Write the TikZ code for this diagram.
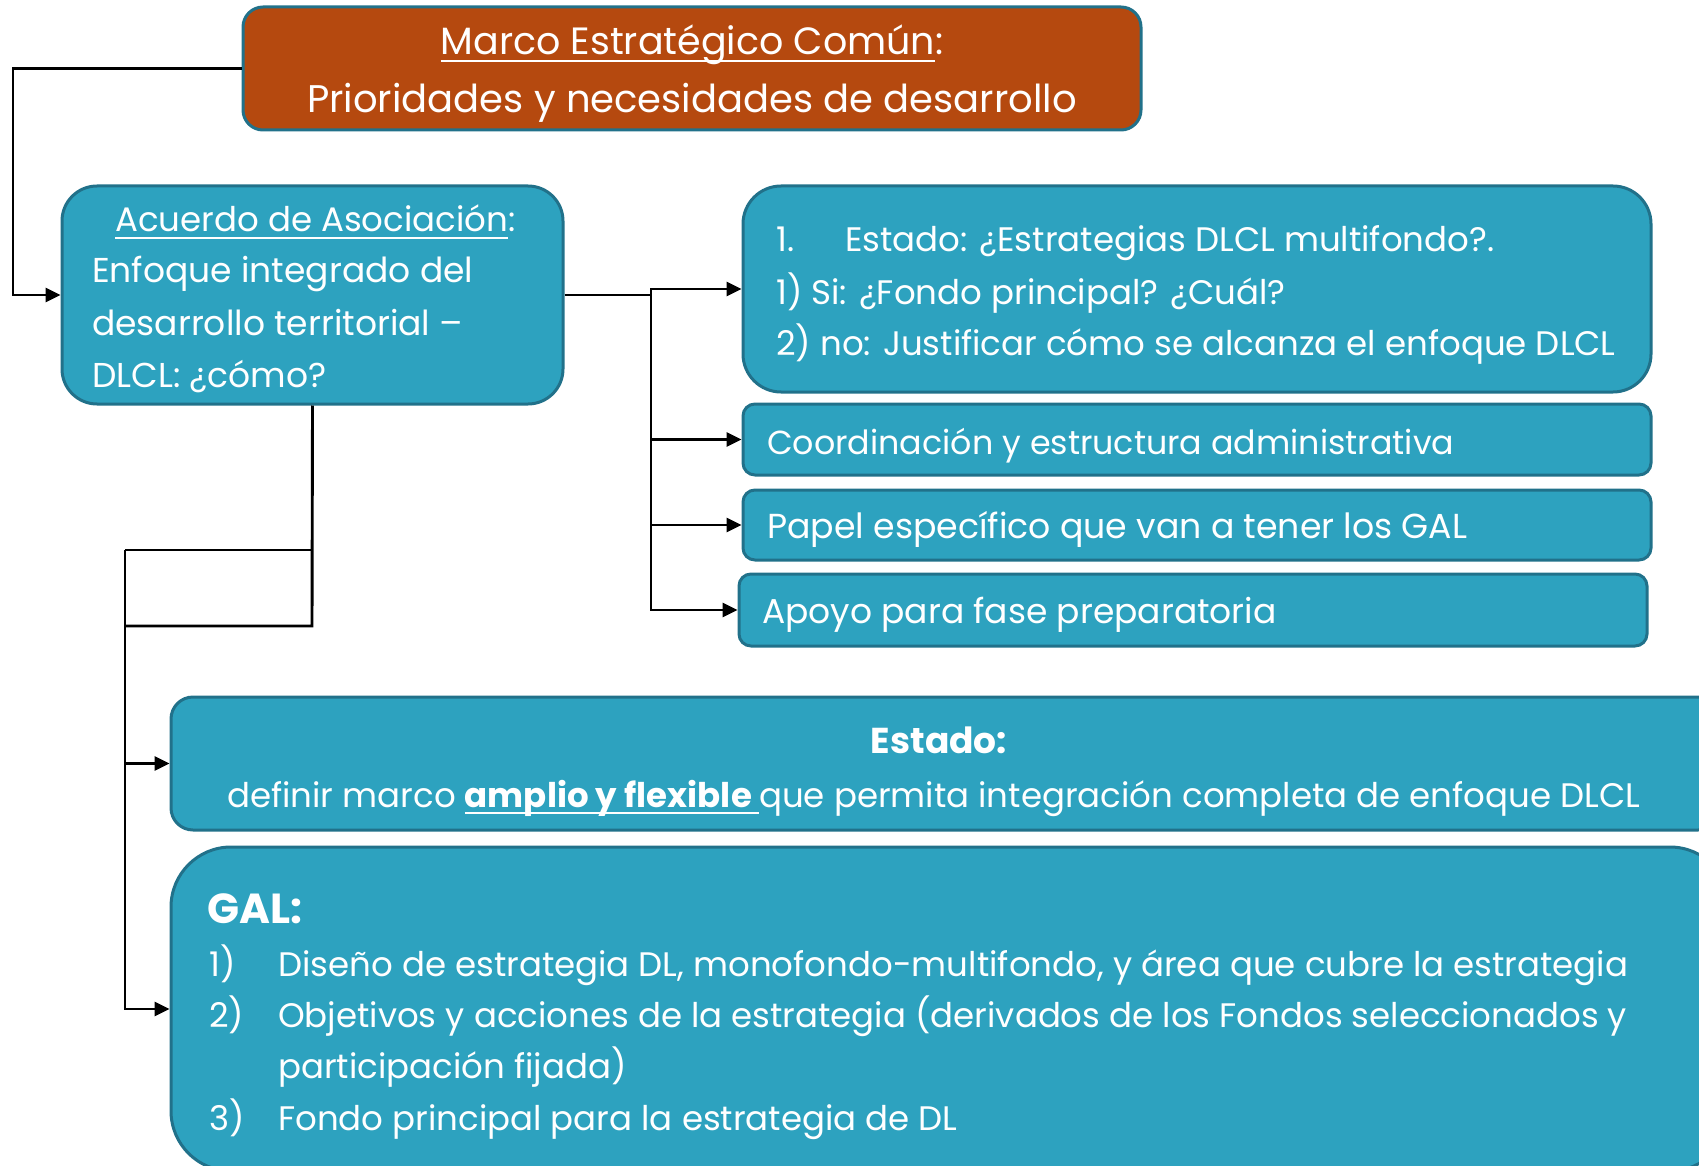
\documentclass[tikz,border=0pt]{standalone}
\usepackage{fontspec}
\setmainfont{Poppins}
\usetikzlibrary{arrows.meta}
\definecolor{tealfill}{HTML}{2DA2BF}
\definecolor{tealedge}{HTML}{21718A}
\definecolor{orangefill}{HTML}{B5490F}
\newcommand{\myul}[1]{\setbox0\hbox{#1}\rlap{\rule[-7pt]{\wd0}{2.4pt}}\box0}
\tikzset{
 box/.style={draw=tealedge, line width=3pt, fill=tealfill, inner sep=0pt},
 txt/.style={anchor=base west, inner sep=0pt, text=white, font=\fontsize{34}{41}\selectfont},
 ctxt/.style={txt, anchor=base},
 conn/.style={draw=black, line width=2.9pt},
 arr/.style={conn, -{Triangle[length=15pt,width=14pt]}},
}
\begin{document}
\begin{tikzpicture}[x=1pt,y=-1pt]
\useasboundingbox (0,0) rectangle (1699,1166);
\clip (0,0) rectangle (1699,1166);
% boxes
\node[box, fill=orangefill, rounded corners=20pt, minimum width=898pt, minimum height=123pt] (top) at (692,68.5) {};
\node[box, rounded corners=35pt, minimum width=501pt, minimum height=218pt] (acu) at (312.5,295) {};
\node[box, rounded corners=38pt, minimum width=908pt, minimum height=206pt] (b1) at (1197,289) {};
\node[box, rounded corners=12pt, minimum width=908pt, minimum height=71pt] (b2) at (1197,439.5) {};
\node[box, rounded corners=12pt, minimum width=908pt, minimum height=70pt] (b3) at (1197,525) {};
\node[box, rounded corners=12pt, minimum width=908pt, minimum height=72pt] (b4) at (1193,610) {};
\node[box, rounded corners=22pt, minimum width=1549pt, minimum height=133pt] (est) at (945.5,763.5) {};
\node[box, rounded corners=60pt, minimum width=1559pt, minimum height=324pt] (gal) at (950.5,1009) {};
% texts
\node[ctxt, font=\fontsize{38}{45}\selectfont] (top1) at (692,55) {\myul{Marco Estratégico Común}:};
\node[ctxt, font=\fontsize{38.5}{45}\selectfont] (top2) at (692,113) {Prioridades y necesidades de desarrollo};
\node[txt] (a1) at (115,232) {\myul{Acuerdo de Asociación}:};
\node[txt, font=\fontsize{34.5}{41}\selectfont] (a2) at (92,283) {Enfoque integrado del};
\node[txt, font=\fontsize{34.5}{41}\selectfont] (a3) at (92,335) {desarrollo territorial –};
\node[txt, font=\fontsize{34.5}{41}\selectfont] (a4) at (92,387) {DLCL: ¿cómo?};
\node[txt] (b1n) at (776,252) {1.};
\node[txt] (b1a) at (845,252) {Estado: ¿Estrategias DLCL multifondo?.};
\node[txt] (b1b) at (776,304) {1) Si: ¿Fondo principal? ¿Cuál?};
\node[txt] (b1c) at (776,355) {2) no: Justificar cómo se alcanza el enfoque DLCL};
\node[txt, font=\fontsize{33.3}{41}\selectfont] (b2t) at (767,454) {Coordinación y estructura administrativa};
\node[txt, font=\fontsize{34.7}{41}\selectfont] (b3t) at (767,538) {Papel específico que van a tener los GAL};
\node[txt, font=\fontsize{34.5}{41}\selectfont] (b4t) at (762,623) {Apoyo para fase preparatoria};
\node[ctxt, font=\fontsize{36}{41}\selectfont\bfseries] (e1) at (939,753) {Estado:};
\node[txt] (e2) at (227,807) {definir marco \textbf{\myul{amplio y flexible }}que permita integración completa de enfoque DLCL};
\node[txt, font=\fontsize{42}{48}\selectfont\bfseries] (g0) at (207,923) {GAL:};
\node[txt] (g1n) at (209,976) {1)};
\node[txt] (g1) at (278,976) {Diseño de estrategia DL, monofondo-multifondo, y área que cubre la estrategia};
\node[txt] (g2n) at (209,1027) {2)};
\node[txt] (g2) at (278,1027) {Objetivos y acciones de la estrategia (derivados de los Fondos seleccionados y};
\node[txt] (g2b) at (278,1078) {participación fijada)};
\node[txt] (g3n) at (209,1130) {3)};
\node[txt] (g3) at (278,1130) {Fondo principal para la estrategia de DL};
% connectors
\coordinate (lt) at (13,68.5);
\coordinate (rj) at (651,295);
\coordinate (bj) at (312,626);
\coordinate (bh) at (312,550);
\coordinate (lv) at (125,550);
\draw[arr] (top.west) -- (lt) |- (acu.west);
\draw[conn] (acu.east) -- (rj);
\draw[arr] (rj) |- (b1.west);
\draw[arr] (rj) |- (b2.west);
\draw[arr] (rj) |- (b3.west);
\draw[arr] (rj) |- (b4.west);
\draw[conn] (acu.south) -- (bj) -- (125,626);
\draw[conn] (bh) -- (lv);
\draw[arr] (lv) |- (est.west);
\draw[arr] (lv) |- (gal.west);
\end{tikzpicture}
\end{document}
